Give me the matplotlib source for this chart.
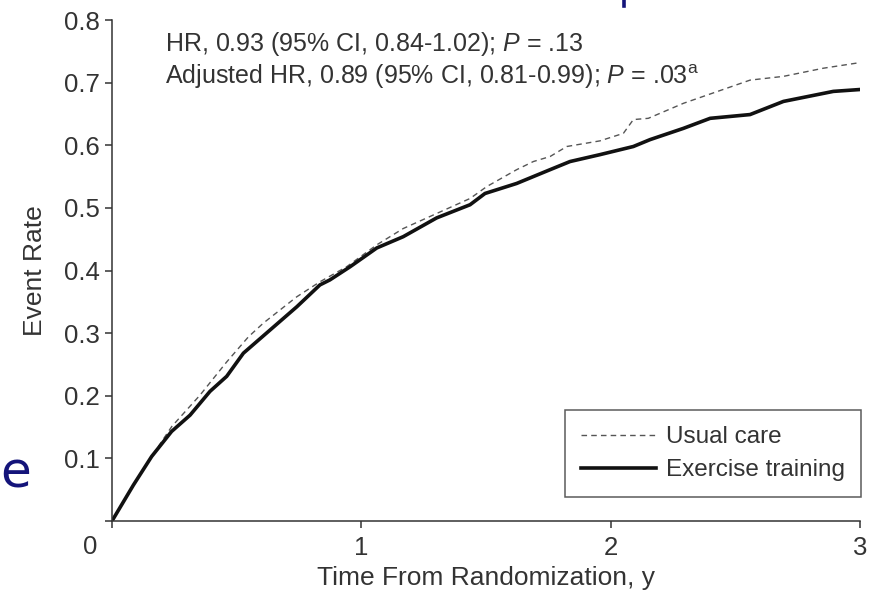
import matplotlib
matplotlib.use("Agg")
import matplotlib.pyplot as plt
from matplotlib.lines import Line2D

plt.rcParams['font.family'] = ['Liberation Sans', 'DejaVu Sans']
plt.rcParams['mathtext.fontset'] = 'custom'
plt.rcParams['mathtext.rm'] = 'Liberation Sans'
plt.rcParams['mathtext.it'] = 'Liberation Sans:italic'

# (years, event rate)
usual_x = [0, 0.086, 0.159, 0.24, 0.353, 0.46, 0.547, 0.607, 0.741, 0.834, 0.941,
           1.062, 1.168, 1.302, 1.436, 1.503, 1.623, 1.69, 1.757, 1.824, 1.957,
           2.051, 2.091, 2.151, 2.292, 2.559, 2.693, 2.853, 3.0]
usual_y = [0, 0.0575, 0.103, 0.151, 0.201, 0.254, 0.294, 0.316, 0.358, 0.382, 0.406,
           0.441, 0.467, 0.491, 0.515, 0.534, 0.561, 0.574, 0.582, 0.598, 0.607,
           0.619, 0.641, 0.643, 0.667, 0.704, 0.710, 0.723, 0.732]
exercise_x = [0, 0.086, 0.159, 0.239, 0.313, 0.393, 0.46, 0.527, 0.634, 0.741, 0.834,
              0.874, 0.955, 1.062, 1.168, 1.302, 1.436, 1.496, 1.623, 1.69, 1.757,
              1.837, 1.957, 2.091, 2.158, 2.292, 2.399, 2.559, 2.693, 2.893, 3.0]
exercise_y = [0, 0.0575, 0.103, 0.143, 0.169, 0.207, 0.231, 0.268, 0.305, 0.342, 0.377,
              0.385, 0.406, 0.436, 0.454, 0.484, 0.505, 0.523, 0.539, 0.550, 0.561,
              0.574, 0.585, 0.598, 0.609, 0.627, 0.643, 0.649, 0.670, 0.686, 0.689]

xticks = [0, 1, 2, 3]
xtick_labels = ['', '1', '2', '3']
yticks = [0, 0.1, 0.2, 0.3, 0.4, 0.5, 0.6, 0.7, 0.8]
ytick_labels = ['', '0.1', '0.2', '0.3', '0.4', '0.5', '0.6', '0.7', '0.8']

txt = '#333333'
fig = plt.figure(figsize=(8.71, 5.99), dpi=100)
ax = fig.add_axes([112/871, 78/599, 748/871, 501/599])

ax.plot(usual_x, usual_y, color='#555555', lw=1.0, ls=(0, (4, 3)), label='Usual care')
ax.plot(exercise_x, exercise_y, color='#111111', lw=2.6, label='Exercise training')

ax.set_xlim(0, 3)
ax.set_ylim(0, 0.8)
ax.set_xticks(xticks)
ax.set_xticklabels(xtick_labels)
ax.set_yticks(yticks)
ax.set_yticklabels(ytick_labels)
for s in ['top', 'right']:
    ax.spines[s].set_visible(False)
for s in ['left', 'bottom']:
    ax.spines[s].set_color('#333333')
    ax.spines[s].set_linewidth(1.1)
ax.tick_params(axis='both', direction='out', length=5, width=1.1, color='#333333',
               labelsize=18.5, labelcolor=txt)
ax.tick_params(axis='x', pad=6)
ax.tick_params(axis='y', pad=4)

fig.text(90/871, 1 - 547/599, '0', ha='center', va='center', fontsize=18.5, color=txt)

ax.set_xlabel('Time From Randomization, y', fontsize=19, color=txt, labelpad=4)
ax.set_ylabel('Event Rate', fontsize=19, color=txt, labelpad=12)

ax.text(0.2126, 0.762, r'HR, 0.93 (95% CI, 0.84-1.02); $P$ = .13',
        fontsize=18, color=txt, va='center')
ax.text(0.2126, 0.709, r'Adjusted HR, 0.89 (95% CI, 0.81-0.99); $P$ = .03$^{\rm a}$',
        fontsize=18, color=txt, va='center')

leg = ax.legend(loc='lower right', bbox_to_anchor=(1.0013, 0.048), borderaxespad=0,
                fontsize=17.5, handlelength=3.1, handletextpad=0.42, labelspacing=0.45,
                fancybox=False, frameon=True, borderpad=0.65)
leg.get_frame().set_edgecolor('#333333')
leg.get_frame().set_linewidth(1.1)
for t in leg.get_texts():
    t.set_color(txt)

# leftover slide text around the figure
fig.text(0.0, 1 - 488/599, 'e', fontsize=36, color='#14147a', family='DejaVu Sans',
         va='baseline')
# stem of a cut-off letter at the top edge
fig.add_artist(Line2D([623.5/871, 623.5/871], [1.0, 1 - 6/599], color='#14147a',
                      lw=2.6, transform=fig.transFigure))

fig.savefig('out.png', dpi=100)
